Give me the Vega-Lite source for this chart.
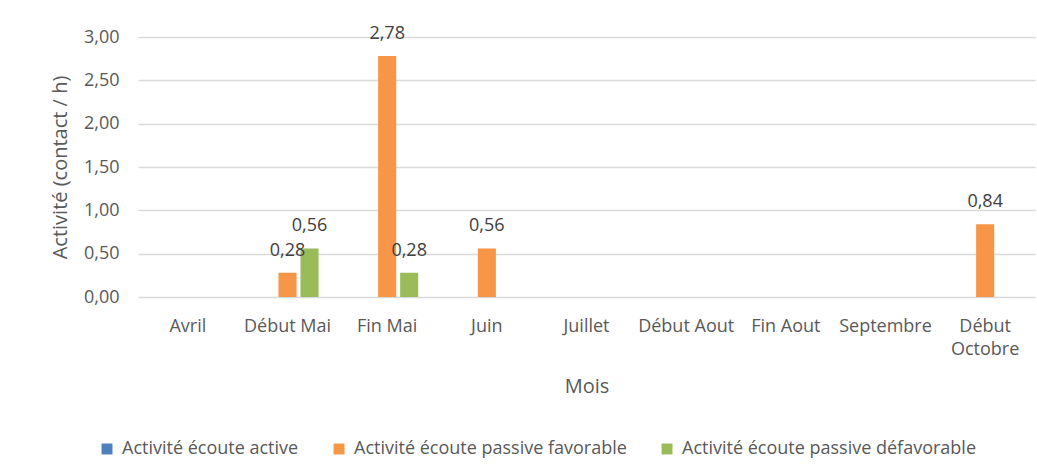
{
  "$schema": "https://vega.github.io/schema/vega-lite/v6.json",
  "autosize": {"type": "none"},
  "padding": {"left": 138, "top": 37, "right": 2, "bottom": 178},
  "width": 897,
  "height": 260,
  "background": "white",
  "config": {
    "font": "Open Sans",
    "view": {"stroke": null},
    "locale": {"number": {"decimal": ",", "thousands": " ", "grouping": [3], "currency": ["", " €"]}},
    "axis": {"labelColor": "#595959", "titleColor": "#595959", "labelFontSize": 18, "titleFontSize": 20, "titleFontWeight": "normal", "ticks": false, "tickSize": 0, "domain": false, "gridColor": "#d9d9d9", "gridWidth": 1.5},
    "legend": {"labelColor": "#595959", "labelFontSize": 18, "labelLimit": 0}
  },
  "data": {"values": [
    {"mois": "Avril", "serie": "Activité écoute active", "v": 0},
    {"mois": "Avril", "serie": "Activité écoute passive favorable", "v": 0},
    {"mois": "Avril", "serie": "Activité écoute passive défavorable", "v": 0},
    {"mois": "Début Mai", "serie": "Activité écoute active", "v": 0},
    {"mois": "Début Mai", "serie": "Activité écoute passive favorable", "v": 0.28},
    {"mois": "Début Mai", "serie": "Activité écoute passive défavorable", "v": 0.56},
    {"mois": "Fin Mai", "serie": "Activité écoute active", "v": 0},
    {"mois": "Fin Mai", "serie": "Activité écoute passive favorable", "v": 2.78},
    {"mois": "Fin Mai", "serie": "Activité écoute passive défavorable", "v": 0.28},
    {"mois": "Juin", "serie": "Activité écoute active", "v": 0},
    {"mois": "Juin", "serie": "Activité écoute passive favorable", "v": 0.56},
    {"mois": "Juin", "serie": "Activité écoute passive défavorable", "v": 0},
    {"mois": "Juillet", "serie": "Activité écoute active", "v": 0},
    {"mois": "Juillet", "serie": "Activité écoute passive favorable", "v": 0},
    {"mois": "Juillet", "serie": "Activité écoute passive défavorable", "v": 0},
    {"mois": "Début Aout", "serie": "Activité écoute active", "v": 0},
    {"mois": "Début Aout", "serie": "Activité écoute passive favorable", "v": 0},
    {"mois": "Début Aout", "serie": "Activité écoute passive défavorable", "v": 0},
    {"mois": "Fin Aout", "serie": "Activité écoute active", "v": 0},
    {"mois": "Fin Aout", "serie": "Activité écoute passive favorable", "v": 0},
    {"mois": "Fin Aout", "serie": "Activité écoute passive défavorable", "v": 0},
    {"mois": "Septembre", "serie": "Activité écoute active", "v": 0},
    {"mois": "Septembre", "serie": "Activité écoute passive favorable", "v": 0},
    {"mois": "Septembre", "serie": "Activité écoute passive défavorable", "v": 0},
    {"mois": "Début Octobre", "serie": "Activité écoute active", "v": 0},
    {"mois": "Début Octobre", "serie": "Activité écoute passive favorable", "v": 0.84},
    {"mois": "Début Octobre", "serie": "Activité écoute passive défavorable", "v": 0}
  ]},
  "encoding": {
    "x": {
      "field": "mois", "type": "nominal",
      "sort": ["Avril", "Début Mai", "Fin Mai", "Juin", "Juillet", "Début Aout", "Fin Aout", "Septembre", "Début Octobre"],
      "scale": {"paddingInner": 0.377, "paddingOuter": 0.1885},
      "axis": {"title": "Mois", "labelAngle": 0, "labelPadding": 20, "titlePadding": 18, "labelLineHeight": 23, "labelExpr": "datum.label == 'Début Octobre' ? ['Début', 'Octobre'] : datum.label"}
    },
    "xOffset": {
      "field": "serie", "type": "nominal",
      "sort": ["Activité écoute active", "Activité écoute passive favorable", "Activité écoute passive défavorable"],
      "scale": {"paddingInner": 0.18, "paddingOuter": 0}
    },
    "y": {
      "field": "v", "type": "quantitative",
      "scale": {"domain": [0, 3], "nice": false},
      "axis": {"title": "Activité (contact / h)", "values": [0, 0.5, 1, 1.5, 2, 2.5, 3], "format": ".2f", "labelPadding": 19, "titlePadding": 13}
    }
  },
  "layer": [
    {
      "mark": {"type": "bar"},
      "encoding": {
        "color": {
          "field": "serie", "type": "nominal",
          "scale": {"domain": ["Activité écoute active", "Activité écoute passive favorable", "Activité écoute passive défavorable"], "range": ["#4F81BD", "#F79646", "#9BBB59"]},
          "legend": {"title": null, "orient": "none", "direction": "horizontal", "legendX": -40, "legendY": 403, "symbolType": "square", "symbolSize": 120, "symbolStrokeWidth": 0, "labelOffset": 6, "columnPadding": 31}
        }
      }
    },
    {
      "transform": [{"filter": "datum.v > 0"}],
      "mark": {"type": "text", "baseline": "middle", "dy": -22, "fontSize": 18, "color": "#404040"},
      "encoding": {
        "text": {"field": "v", "type": "quantitative", "format": ".2f"}
      }
    }
  ]
}
